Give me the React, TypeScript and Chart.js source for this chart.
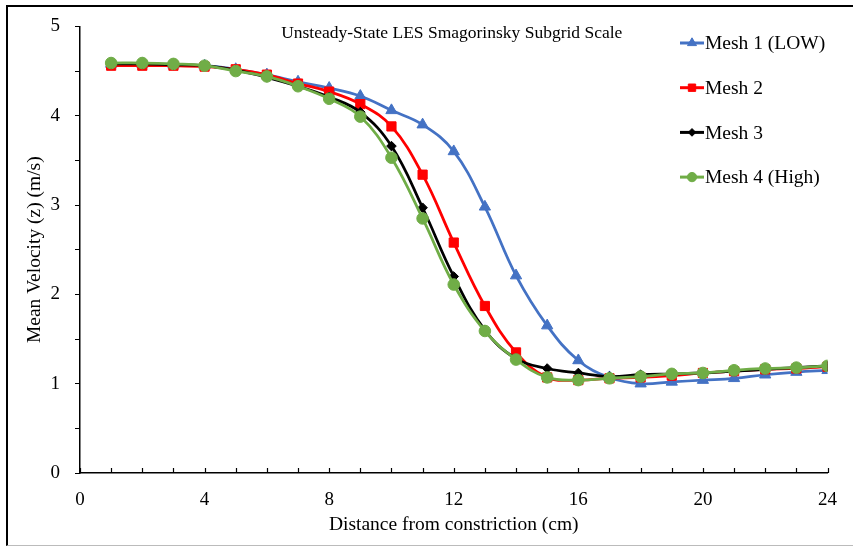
import React, { useEffect, useRef } from "react";
import { Chart, registerables } from "chart.js";

Chart.register(...registerables);

const distances = [1, 2, 3, 4, 5, 6, 7, 8, 9, 10, 11, 12, 13, 14, 15, 16, 17, 18, 19, 20, 21, 22, 23, 24];
const mesh1 = [4.58, 4.58, 4.57, 4.56, 4.52, 4.46, 4.38, 4.31, 4.22, 4.06, 3.9, 3.6, 2.98, 2.21, 1.65, 1.26, 1.07, 1.0, 1.02, 1.04, 1.06, 1.1, 1.13, 1.15];
const mesh2 = [4.56, 4.56, 4.56, 4.55, 4.52, 4.46, 4.36, 4.27, 4.13, 3.88, 3.34, 2.58, 1.87, 1.35, 1.07, 1.04, 1.06, 1.07, 1.09, 1.12, 1.14, 1.16, 1.17, 1.19];
const mesh3 = [4.58, 4.58, 4.57, 4.56, 4.51, 4.43, 4.33, 4.21, 4.04, 3.66, 2.97, 2.2, 1.6, 1.28, 1.17, 1.12, 1.08, 1.1, 1.11, 1.12, 1.14, 1.16, 1.18, 1.2];
const mesh4 = [4.59, 4.59, 4.58, 4.56, 4.5, 4.44, 4.33, 4.19, 3.99, 3.53, 2.85, 2.11, 1.59, 1.27, 1.07, 1.04, 1.06, 1.08, 1.11, 1.12, 1.15, 1.17, 1.18, 1.2];

const seriesNames = ["Mesh 1 (LOW)", "Mesh 2", "Mesh 3", "Mesh 4 (High)"];
const seriesValues = [mesh1, mesh2, mesh3, mesh4];
const seriesColors = ["#4472C4", "#FF0000", "#000000", "#70AD47"];
const seriesPointStyles = ["triangle", "rect", "rectRot", "circle"];
const seriesPointRadius = [6.5, 6.5, 4.8, 5.8];

const chartTitle = "Unsteady-State LES Smagorinsky Subgrid Scale";
const xAxisTitle = "Distance from constriction (cm)";
const yAxisTitle = "Mean Velocity (z) (m/s)";
const xTicks = [0, 4, 8, 12, 16, 20, 24];
const yTicks = [0, 1, 2, 3, 4, 5];

const FONT = "'Liberation Serif', 'Times New Roman', serif";

function drawMarker(ctx: CanvasRenderingContext2D, style: string, r: number, x: number, y: number) {
  ctx.beginPath();
  if (style === "circle") {
    ctx.arc(x, y, r, 0, Math.PI * 2);
  } else if (style === "rect") {
    const s = r * Math.SQRT1_2;
    ctx.rect(x - s, y - s, 2 * s, 2 * s);
  } else if (style === "rectRot") {
    ctx.moveTo(x, y - r);
    ctx.lineTo(x + r, y);
    ctx.lineTo(x, y + r);
    ctx.lineTo(x - r, y);
  } else if (style === "triangle") {
    const a = -Math.PI / 2;
    for (let k = 0; k < 3; k++) {
      const t = a + (k * 2 * Math.PI) / 3;
      const px = x + Math.cos(t) * r;
      const py = y + Math.sin(t) * r;
      if (k === 0) ctx.moveTo(px, py);
      else ctx.lineTo(px, py);
    }
  }
  ctx.closePath();
  ctx.fill();
  ctx.stroke();
}

const overlayPlugin = {
  id: "overlay",
  afterDatasetsDraw(chart: any) {
    const ctx = chart.ctx;
    const xs = chart.scales.x;
    const area = chart.chartArea;
    ctx.save();
    // x-axis minor ticks (inside)
    ctx.strokeStyle = "#000";
    ctx.lineWidth = 1.2;
    for (let v = 0; v <= 24; v++) {
      const px = Math.round(xs.getPixelForValue(v)) + 0.5;
      ctx.beginPath();
      ctx.moveTo(px, area.bottom);
      ctx.lineTo(px, area.bottom - 5);
      ctx.stroke();
    }
    // title inside plot area
    ctx.fillStyle = "#000";
    ctx.font = "17.5px " + FONT;
    ctx.textAlign = "center";
    ctx.textBaseline = "middle";
    ctx.fillText(chartTitle, (area.left + area.right) / 2 - 2, area.top + 7);
    // legend
    ctx.font = "19.5px " + FONT;
    ctx.textAlign = "left";
    chart.data.datasets.forEach((ds: any, i: number) => {
      const y = 43 + i * 44.7;
      const x0 = 680;
      const x1 = 704;
      ctx.strokeStyle = ds.borderColor;
      ctx.lineWidth = 3;
      ctx.beginPath();
      ctx.moveTo(x0, y);
      ctx.lineTo(x1, y);
      ctx.stroke();
      ctx.fillStyle = ds.backgroundColor;
      ctx.strokeStyle = ds.borderColor;
      ctx.lineWidth = 1;
      drawMarker(ctx, ds.pointStyle, ds.pointRadius * 0.8, (x0 + x1) / 2, y);
      ctx.fillStyle = "#000";
      ctx.fillText(ds.label, 705, y + 1);
    });
    ctx.restore();
  },
};

export default function App() {
  const canvasRef = useRef<HTMLCanvasElement | null>(null);

  useEffect(() => {
    if (!canvasRef.current) return;
    const datasets = seriesNames.map((name, i) => ({
      label: name,
      data: distances.map((d, j) => ({ x: d, y: seriesValues[i][j] })),
      borderColor: seriesColors[i],
      backgroundColor: seriesColors[i],
      borderWidth: 2.75,
      pointStyle: seriesPointStyles[i],
      pointRadius: seriesPointRadius[i],
      pointBorderWidth: 1,
      tension: 0.4,
      order: 3 - i,
    }));
    const chart = new Chart(canvasRef.current, {
      type: "line",
      data: { datasets },
      options: {
        animation: false,
        responsive: false,
        maintainAspectRatio: false,
        layout: { padding: { top: 24, right: 23, bottom: 0, left: 0 } },
        plugins: {
          legend: { display: false },
          title: { display: false },
          tooltip: { enabled: false },
        },
        scales: {
          x: {
            type: "linear",
            min: 0,
            max: 24,
            afterFit: (s: any) => {
              s.height = 73;
            },
            afterBuildTicks: (s: any) => {
              s.ticks = xTicks.map((v) => ({ value: v }));
            },
            border: { display: true, color: "#000", width: 1.5 },
            grid: { display: true, drawOnChartArea: false, drawTicks: false, color: "#000" },
            ticks: { padding: 16, color: "#000", font: { family: FONT, size: 19 }, maxRotation: 0 },
            title: { display: true, text: xAxisTitle, color: "#000", font: { family: FONT, size: 19.5 }, padding: { top: 0, bottom: 9 } },
          },
          y: {
            type: "linear",
            min: 0,
            max: 5,
            afterFit: (s: any) => {
              s.width = 80;
            },
            afterBuildTicks: (s: any) => {
              const t: any[] = [];
              for (let v = 0; v <= 10; v++) t.push({ value: v / 2 });
              s.ticks = t;
            },
            border: { display: true, color: "#000", width: 1.5 },
            grid: { display: true, drawOnChartArea: false, drawTicks: true, tickLength: 5, color: "#000", tickColor: "#000" },
            ticks: {
              padding: 15,
              color: "#000",
              font: { family: FONT, size: 19 },
              callback: (v: any) => (yTicks.includes(Number(v)) ? String(v) : ""),
            },
            title: { display: true, text: yAxisTitle, color: "#000", font: { family: FONT, size: 19.5 }, padding: { top: 23, bottom: 0 } },
          },
        },
      },
      plugins: [overlayPlugin],
    } as any);
    return () => chart.destroy();
  }, []);

  return (
    <div style={{ position: "fixed", left: 0, top: 0, width: 853, height: 546, background: "#fff", overflow: "hidden" }}>
      <div
        style={{
          position: "absolute",
          left: 6,
          top: 5,
          width: 900,
          height: 538,
          borderTop: "2px solid #000",
          borderLeft: "2px solid #000",
          borderBottom: "1px solid #bbb",
        }}
      />
      <canvas ref={canvasRef} width={853} height={546} style={{ position: "absolute", left: 0, top: 0, width: 853, height: 546 }} />
    </div>
  );
}
